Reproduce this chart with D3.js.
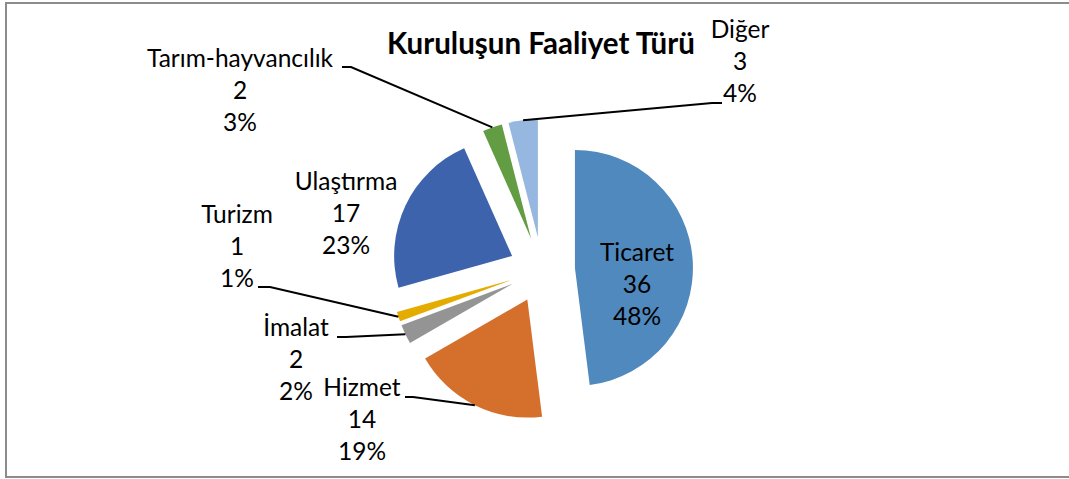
<!DOCTYPE html>
<html>
<head>
<meta charset="utf-8">
<script src="https://cdn.jsdelivr.net/npm/d3@7"></script>
<style>
  body { margin: 0; background: #fff; }
  svg text { font-family: Lato, "Noto Sans", sans-serif; fill: #000; }
</style>
</head>
<body>
<svg id="chart" width="1069" height="479"></svg>
<script>
// data
var categories = ['Ticaret', 'Hizmet', 'İmalat', 'Turizm', 'Ulaştırma', 'Tarım-hayvancılık', 'Diğer'];
var values = [36, 14, 2, 1, 17, 2, 3];
var percentLabels = ['48%', '19%', '2%', '1%', '23%', '3%', '4%'];
var colors = ['#4f89be', '#d5702c', '#949494', '#e5ac00', '#3e63ad', '#629c43', '#95b7e0'];
var title = 'Kuruluşun Faaliyet Türü';

var width = 1069, height = 479,
    cx = 542, cy = 270,
    radius = 118,
    explode = 33,
    lineStep = 31.8;

// label boxes: centre x, first baseline, leader tail (null = no leader)
var labelLayout = [
    {x: 637, y: 261, tail: null},
    {x: 362, y: 396, tail: [[405, 397], [413, 397]]},
    {x: 296, y: 336, tail: [[337, 337], [346, 337]]},
    {x: 237, y: 223, tail: [[258, 287], [270, 287]]},
    {x: 346, y: 190, tail: null},
    {x: 240, y: 67, tail: [[342, 67], [351, 67]]},
    {x: 740, y: 38, tail: [[722, 103], [712, 103]]}
];

var svg = d3.select('#chart');

// frame
svg.append('rect')
    .attr('x', 6).attr('y', 3)
    .attr('width', 1064).attr('height', 474)
    .style('fill', 'none')
    .style('stroke', '#8c8c8c')
    .style('stroke-width', 2);

svg.append('text')
    .attr('x', 541).attr('y', 54)
    .style('text-anchor', 'middle')
    .style('font-weight', 'bold')
    .style('font-size', '29.5px')
    .text(title);

var pie = d3.pie().sort(null).value(d => d)
    .startAngle(0).endAngle(2 * Math.PI);
var arcs = pie(values);
var arc = d3.arc().innerRadius(0).outerRadius(radius);

var shift = function(a, dist){
    var m = (a.startAngle + a.endAngle) / 2;
    return [Math.sin(m) * dist, -Math.cos(m) * dist];
};

var g = svg.append('g').attr('transform', 'translate(' + cx + ',' + cy + ')');

g.selectAll('path')
    .data(arcs)
    .enter()
    .append('path')
    .attr('d', arc)
    .attr('transform', d => 'translate(' + shift(d, explode).join(',') + ')')
    .style('fill', (d, i) => colors[i]);

// leader lines from slice edge to label tail
arcs.forEach(function(a, i){
    var lay = labelLayout[i];
    if (!lay.tail) return;
    var p = shift(a, explode + radius);
    var pts = [[cx + p[0], cy + p[1]], lay.tail[1], lay.tail[0]];
    svg.append('path')
        .attr('d', d3.line()(pts))
        .style('fill', 'none')
        .style('stroke', '#000')
        .style('stroke-width', 2);
});

// labels
arcs.forEach(function(a, i){
    var lay = labelLayout[i];
    var t = svg.append('text')
        .style('text-anchor', 'middle')
        .style('font-size', '24.5px');
    [categories[i], values[i], percentLabels[i]].forEach(function(s, k){
        t.append('tspan')
            .attr('x', lay.x)
            .attr('y', lay.y + k * lineStep)
            .text(s);
    });
});
</script>
</body>
</html>
